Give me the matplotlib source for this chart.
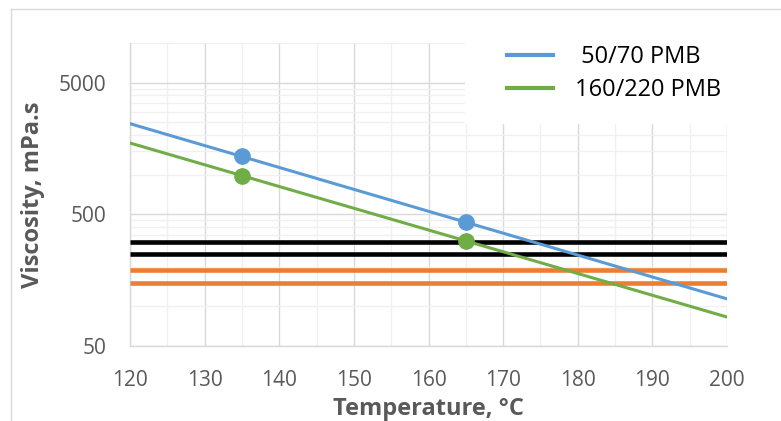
import matplotlib
matplotlib.use("Agg")
import matplotlib.pyplot as plt
from matplotlib.lines import Line2D
from matplotlib.patches import Rectangle
from matplotlib.ticker import FixedLocator, NullFormatter, FixedFormatter

# ---- data ----
temps_line = [120, 200]
pmb5070_line = [2440, 114]
pmb160220_line = [1740, 83]
temps_pts = [135, 165]
pmb5070_pts = [1375, 436]
pmb160220_pts = [980, 313]
compaction_limits = [250, 310]
mixing_limits = [150, 190]
labels = ["50/70 PMB", "160/220 PMB"]
y_major = [50, 500, 5000]
y_minor = [100, 150, 200, 250, 300, 350, 400, 450,
           1000, 1500, 2000, 2500, 3000, 3500, 4000, 4500, 10000]
x_major = [120, 130, 140, 150, 160, 170, 180, 190, 200]
x_minor = [125, 135, 145, 155, 165, 175, 185, 195]

BLUE = "#5B9BD5"
GREEN = "#70AD47"
ORANGE = "#ED7D31"
GRAY = "#595959"

plt.rcParams['font.family'] = ['Open Sans', 'DejaVu Sans']

W, H = 781, 421
fig = plt.figure(figsize=(W / 100, H / 100), dpi=100)
L, R, T, B = 130, 727, 43, 346
ax = fig.add_axes([L / W, 1 - B / H, (R - L) / W, (B - T) / H])

ax.set_yscale('log')
ax.set_xlim(120, 200)
ax.set_ylim(50, 10000)

ax.yaxis.set_major_locator(FixedLocator(y_major))
ax.yaxis.set_major_formatter(FixedFormatter([str(v) for v in y_major]))
ax.yaxis.set_minor_locator(FixedLocator(y_minor))
ax.yaxis.set_minor_formatter(NullFormatter())
ax.xaxis.set_major_locator(FixedLocator(x_major))
ax.xaxis.set_minor_locator(FixedLocator(x_minor))

ax.grid(True, which='major', color='#D9D9D9', lw=1.0, zorder=0)
ax.grid(True, which='minor', color='#F0F0F0', lw=1.0, zorder=0)
ax.set_axisbelow(True)
ax.tick_params(which='both', length=0)
ax.tick_params(axis='y', pad=17, labelsize=15, labelcolor=GRAY)
ax.tick_params(axis='x', pad=17, labelsize=15, labelcolor=GRAY)
for s in ['top', 'right']:
    ax.spines[s].set_visible(False)
for s in ['left', 'bottom']:
    ax.spines[s].set_color('#D9D9D9')
    ax.spines[s].set_linewidth(1.0)

# limit lines
for v in compaction_limits:
    ax.plot(temps_line, [v, v], color='black', lw=3.3, solid_capstyle='butt', zorder=3)
for v in mixing_limits:
    ax.plot(temps_line, [v, v], color=ORANGE, lw=3.3, solid_capstyle='butt', zorder=3)

# trend lines and points
ax.plot(temps_line, pmb5070_line, color=BLUE, lw=2.2, zorder=4)
ax.plot(temps_line, pmb160220_line, color=GREEN, lw=2.2, zorder=4)
ax.plot(temps_pts, pmb5070_pts, 'o', color=BLUE, ms=11, zorder=5)
ax.plot(temps_pts, pmb160220_pts, 'o', color=GREEN, ms=11, zorder=5)

# legend background
fig.patches.append(Rectangle((465 / W, 1 - 124 / H), (735 - 465) / W, (124 - 40) / H,
                             transform=fig.transFigure, facecolor='white',
                             edgecolor='none', zorder=2))
handles = [Line2D([], [], color=BLUE, lw=3.0), Line2D([], [], color=GREEN, lw=3.0)]
leg = fig.legend(handles, [" " + labels[0], labels[1]], loc='upper left',
                 bbox_to_anchor=(507 / W, 1 - 45 / H), frameon=False,
                 fontsize=17, handlelength=1.95, handletextpad=0.95,
                 borderpad=0, borderaxespad=0, labelspacing=0.4)
for t in leg.get_texts():
    t.set_color('black')
leg.set_zorder(10)

ax.set_ylabel("Viscosity, mPa.s", fontsize=17, fontweight='bold', color=GRAY)
ax.yaxis.set_label_coords((45 - L) / (R - L), 0.5)
ax.set_xlabel("Temperature, °C", fontsize=17, fontweight='bold', color=GRAY)
ax.xaxis.set_label_coords(0.5, -(397 - B) / (B - T))

# chart area border
fig.add_artist(Line2D([11 / W, 1], [1 - 9 / H, 1 - 9 / H], transform=fig.transFigure,
                      color='#D9D9D9', lw=1.0))
fig.add_artist(Line2D([11 / W, 11 / W], [1 - 9 / H, 0], transform=fig.transFigure,
                      color='#D9D9D9', lw=1.0))

fig.savefig("out.png", dpi=100)
